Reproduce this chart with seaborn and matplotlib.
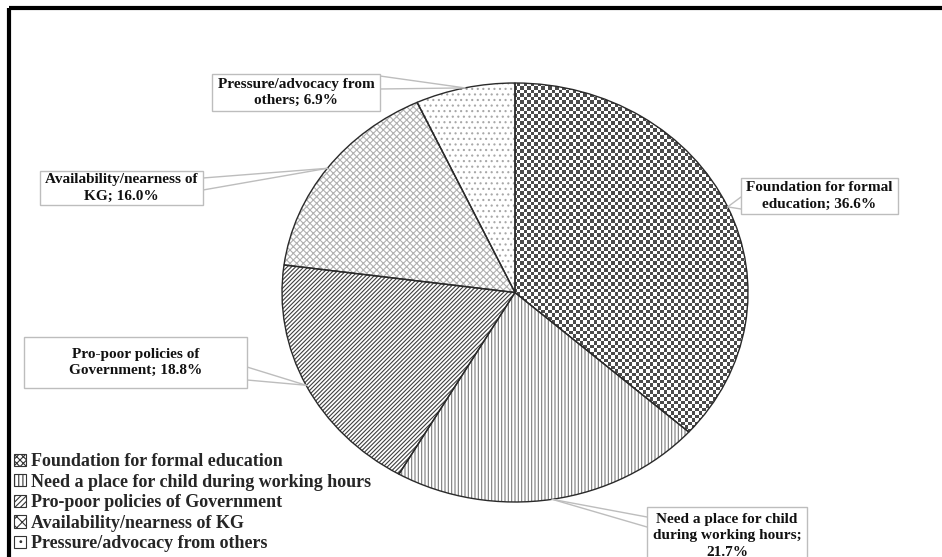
import numpy as np
import matplotlib
matplotlib.use("Agg")
import matplotlib.pyplot as plt
import seaborn as sns
from matplotlib.patches import Rectangle, Patch
from matplotlib.lines import Line2D
from matplotlib.colors import ListedColormap

# Reasons parents give for enrolling children in KG
categories = [
    "Foundation for formal education",
    "Need a place for child during working hours",
    "Pro-poor policies of Government",
    "Availability/nearness of KG",
    "Pressure/advocacy from others",
]
shares = [36.6, 21.7, 18.8, 16.0, 6.9]
label_texts = [
    "Foundation for formal\neducation; 36.6%",
    "Need a place for child\nduring working hours;\n21.7%",
    "Pro-poor policies of\nGovernment; 18.8%",
    "Availability/nearness of\nKG; 16.0%",
    "Pressure/advocacy from\nothers; 6.9%",
]

sns.set_theme(style="white")
plt.rcParams["font.family"] = ["Liberation Serif", "DejaVu Serif"]
plt.rcParams["font.weight"] = "bold"
plt.rcParams["hatch.linewidth"] = 0.8

W, H = 942, 557
fig = plt.figure(figsize=(W / 100, H / 100), dpi=100)
fig.patch.set_facecolor("white")


def px_rect(x0, y0, x1, y1):
    return [x0 / W, 1 - y1 / H, (x1 - x0) / W, (y1 - y0) / H]


def to_fig(x, y):
    return x / W, 1 - y / H


# Outer frame (runs off the right and bottom edges)
fig.patches.append(Rectangle(to_fig(9, 8), 2.0, -2.0, transform=fig.transFigure,
                             fill=False, edgecolor="black", linewidth=3, zorder=0))

ax = fig.add_axes(px_rect(282, 83, 748, 502))

hatches = ["xxxx", "|||||", "////////", "xxxxx", "..."]
hatch_colors = ["#555555", "#7a7a7a", "#3e3e3e", "#b0b0b0", "#a8a8a8"]

wedges, _ = ax.pie(shares, startangle=90, counterclock=False, radius=1,
                   colors=["white"] * len(shares), wedgeprops=dict(linewidth=0))
for w, h, c in zip(wedges, hatches, hatch_colors):
    w.set_hatch(h)
    w.set_edgecolor(c)
    w.set_zorder(1)

# Checkerboard fill for the largest slice
nx, ny = 133, 120
checker = np.add.outer(np.arange(ny), np.arange(nx)) % 2
img = ax.imshow(checker, cmap=ListedColormap(["white", "#4a4a4a"]),
                extent=(-1, 1, -1, 1), interpolation="nearest", zorder=2)
img.set_clip_path(wedges[0])

outline, _ = ax.pie(shares, startangle=90, counterclock=False, radius=1,
                    wedgeprops=dict(fill=False, edgecolor="#2a2a2a", linewidth=1.0))
for w in outline:
    w.set_zorder(3)

ax.set_aspect("auto")
ax.set_xlim(-1, 1)
ax.set_ylim(-1, 1)
ax.axis("off")

# Callout boxes: (x0, y0, x1, y1) in pixels and pointer base points
boxes = [
    ((741, 178, 898, 214), [(741, 197), (741, 209)]),
    ((647, 507, 807, 562), [(647, 517), (647, 527)]),
    ((24, 337, 247, 388), [(247, 367), (247, 380)]),
    ((40, 171, 203, 205), [(203, 178), (203, 190)]),
    ((212, 74, 380, 111), [(380, 76), (380, 89)]),
]

disp_to_fig = fig.transFigure.inverted()
for w, txt, (rect, base) in zip(wedges, label_texts, boxes):
    mid = np.deg2rad((w.theta1 + w.theta2) / 2)
    anchor_disp = ax.transData.transform((np.cos(mid), np.sin(mid)))
    ax_f, ay_f = disp_to_fig.transform(anchor_disp)
    for bx, by in base:
        fx, fy = to_fig(bx, by)
        fig.add_artist(Line2D([fx, ax_f], [fy, ay_f], transform=fig.transFigure,
                              color="#bdbdbd", linewidth=1.0, zorder=4))
    x0, y0, x1, y1 = rect
    fx0, fy1 = to_fig(x0, y1)
    fig.patches.append(Rectangle((fx0, fy1), (x1 - x0) / W, (y1 - y0) / H,
                                 transform=fig.transFigure, facecolor="white",
                                 edgecolor="#bdbdbd", linewidth=1.0, zorder=5))
    n_lines = txt.count("\n") + 1
    cy = y0 + 3 + n_lines * 17 / 2 if y1 > H else (y0 + y1) / 2
    cx = (x0 + x1) / 2
    fig.text(*to_fig(cx, cy), txt, ha="center", va="center", fontsize=11,
             fontweight="bold", color="#111111", linespacing=1.35, zorder=6)

# Legend with small hatched swatches
handles = [Patch(facecolor="white", edgecolor="#333333", hatch=h, linewidth=0.8)
           for h in ["xxxxx", "||||", "//////", "xxx", ".."]]
fig.legend(handles, categories, loc="upper left", bbox_to_anchor=to_fig(14, 453),
           frameon=False, handlelength=0.65, handleheight=0.65, handletextpad=0.3,
           labelspacing=0.2, borderaxespad=0, borderpad=0,
           prop=dict(family="Liberation Serif", weight="bold", size=13))

fig.savefig("out.png", dpi=100, facecolor="white")
